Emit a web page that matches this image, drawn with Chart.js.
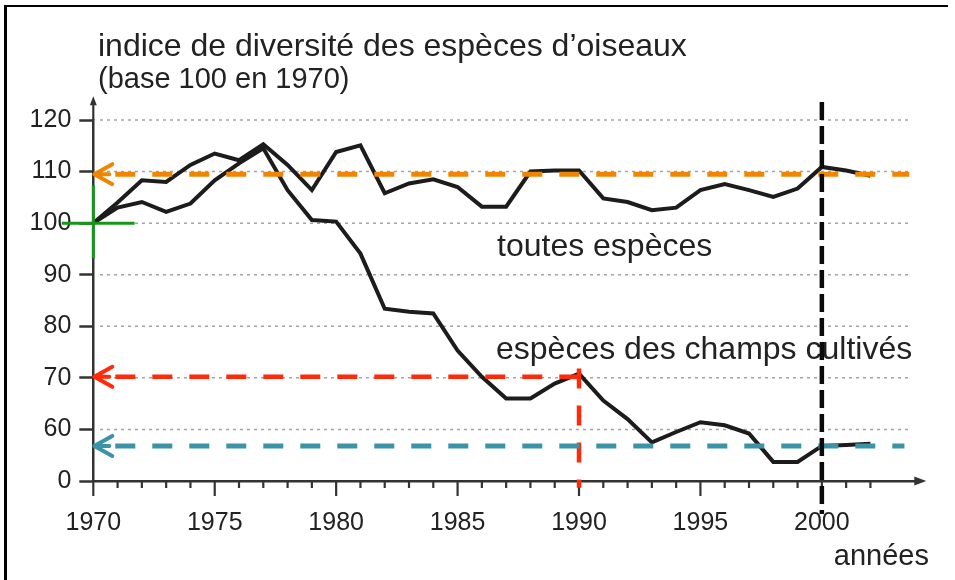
<!DOCTYPE html>
<html>
<head>
<meta charset="utf-8">
<script src="https://cdn.jsdelivr.net/npm/chart.js@4.4.1/dist/chart.umd.min.js"></script>
<style>
  html, body { margin: 0; padding: 0; background: #fff; }
  #wrap { position: relative; width: 955px; height: 580px; }
</style>
</head>
<body>
<div id="wrap"><canvas id="birdChart" width="955" height="580"></canvas></div>
<script>
// years and index values (base 100 in 1970)
const years = [1970, 1971, 1972, 1973, 1974, 1975, 1976, 1977, 1978, 1979,
               1980, 1981, 1982, 1983, 1984, 1985, 1986, 1987, 1988, 1989,
               1990, 1991, 1992, 1993, 1994, 1995, 1996, 1997, 1998, 1999,
               2000, 2001, 2002];
const toutesEspeces = [100, 104, 108.3, 108, 111.3, 113.5, 112.2, 115.3, 111.3, 106.4,
                       113.8, 115.1, 105.8, 107.7, 108.5, 107, 103.2, 103.2, 110, 110.2,
                       110.2, 104.8, 104.1, 102.5, 103, 106.4, 107.6, 106.4, 105.1, 106.7,
                       110.9, 110.2, 109.2];
const champsCultives = [100, 103, 104.1, 102.2, 103.8, 108.3, 111.6, 114.5, 106.4, 100.6,
                        100.3, 94.1, 83.4, 82.8, 82.5, 75.3, 70.2, 66, 66, 68.9,
                        70.8, 65.6, 62, 57.5, 59.5, 61.4, 60.8, 59.2, 53.7, 53.7,
                        56.8, 57, 57.2];

// axis ticks (the axis is broken: "0" sits one step below 60)
const xTickLabels = [1970, 1975, 1980, 1985, 1990, 1995, 2000];
const yTickValues = [50, 60, 70, 80, 90, 100, 110, 120];
const yTickLabels = ['0', '60', '70', '80', '90', '100', '110', '120'];
const gridValues = [60, 70, 80, 90, 100, 110, 120];

// reading guides
const orangeLevel = 109.5;
const redLevel = 70.2;
const redYear = 1990;
const tealLevel = 56.8;
const markYear = 2000;

const FONT = '"Liberation Sans", Arial, Helvetica, sans-serif';
const TEXT = '#222';
const AXIS = '#333';

function dashedLine(ctx, x1, y1, x2, y2, color, width, dash) {
    ctx.save();
    ctx.strokeStyle = color;
    ctx.lineWidth = width;
    ctx.setLineDash(dash);
    ctx.beginPath();
    ctx.moveTo(x1, y1);
    ctx.lineTo(x2, y2);
    ctx.stroke();
    ctx.restore();
}

function leftArrow(ctx, x, y, color) {
    ctx.save();
    ctx.strokeStyle = color;
    ctx.lineWidth = 4;
    ctx.lineCap = 'round';
    ctx.lineJoin = 'round';
    ctx.beginPath();
    ctx.moveTo(x + 19, y - 10);
    ctx.lineTo(x + 1, y);
    ctx.lineTo(x + 19, y + 10);
    ctx.moveTo(x + 1, y);
    ctx.lineTo(x + 16, y);
    ctx.stroke();
    ctx.restore();
}

const decorPlugin = {
    id: 'decor',
    beforeDatasetsDraw(chart) {
        const {ctx} = chart;
        const ys = chart.scales.y;

        // frame
        ctx.save();
        ctx.fillStyle = '#000';
        ctx.fillRect(4, 5, 3, 575);
        ctx.fillRect(4, 5, 944, 2);
        ctx.restore();

        // dotted grid
        gridValues.forEach(v => {
            const y = ys.getPixelForValue(v);
            dashedLine(ctx, 100, y, 910, y, '#a4a4a4', 1.5, [3, 4]);
        });

        // texts
        ctx.save();
        ctx.fillStyle = TEXT;
        ctx.textBaseline = 'middle';
        ctx.textAlign = 'left';
        ctx.font = '32px ' + FONT;
        ctx.fillText('indice de diversité des espèces d\u2019oiseaux', 98, 47);
        ctx.font = '29px ' + FONT;
        ctx.fillText('(base 100 en 1970)', 98, 80);
        ctx.font = '32px ' + FONT;
        ctx.fillText('toutes espèces', 497, 247);
        ctx.fillText('espèces des champs cultivés', 496, 350);
        ctx.textAlign = 'right';
        ctx.font = '29px ' + FONT;
        ctx.fillText('années', 929, 557);
        ctx.restore();
    },
    afterDatasetsDraw(chart) {
        const {ctx} = chart;
        const xs = chart.scales.x, ys = chart.scales.y;
        const area = chart.chartArea;
        const x0 = xs.getPixelForValue(1970);

        // minor / major year ticks below the axis
        ctx.save();
        ctx.strokeStyle = AXIS;
        ctx.lineWidth = 2.2;
        years.forEach(yr => {
            const x = xs.getPixelForValue(yr);
            const len = xTickLabels.includes(yr) ? 15 : 7;
            ctx.beginPath();
            ctx.moveTo(x, area.bottom);
            ctx.lineTo(x, area.bottom + len);
            ctx.stroke();
        });
        // x axis arrow
        const xEnd = xs.getPixelForValue(2004.3);
        ctx.fillStyle = AXIS;
        ctx.beginPath();
        ctx.moveTo(xEnd, area.bottom);
        ctx.lineTo(xEnd - 12, area.bottom - 4.5);
        ctx.lineTo(xEnd - 12, area.bottom + 4.5);
        ctx.closePath();
        ctx.fill();
        ctx.beginPath();
        ctx.moveTo(area.right, area.bottom);
        ctx.lineTo(xEnd - 8, area.bottom);
        ctx.stroke();
        // y axis extension + arrow
        const yTop = ys.getPixelForValue(124.6);
        ctx.beginPath();
        ctx.moveTo(x0, area.top);
        ctx.lineTo(x0, yTop + 6);
        ctx.stroke();
        ctx.beginPath();
        ctx.moveTo(x0, yTop);
        ctx.lineTo(x0 - 3.5, yTop + 9);
        ctx.lineTo(x0 + 3.5, yTop + 9);
        ctx.closePath();
        ctx.fill();
        ctx.restore();

        // orange guide
        const yo = ys.getPixelForValue(orangeLevel);
        dashedLine(ctx, x0 + 22, yo, xs.getPixelForValue(2003.6), yo, '#ef8500', 5, [20, 17]);
        leftArrow(ctx, x0, yo, '#ef8500');

        // red guide
        const yr = ys.getPixelForValue(redLevel);
        const xr = xs.getPixelForValue(redYear);
        dashedLine(ctx, x0 + 22, yr, xr, yr, '#ff2a0a', 4.5, [20, 17]);
        dashedLine(ctx, xr, ys.getPixelForValue(71.8), xr, ys.getPixelForValue(48.7), '#ff2a0a', 4.5, [20, 17]);
        leftArrow(ctx, x0, yr, '#ff2a0a');

        // teal guide
        const yt = ys.getPixelForValue(tealLevel);
        dashedLine(ctx, x0 + 22, yt, xs.getPixelForValue(2003.4), yt, '#3a93a8', 5, [20, 17]);
        leftArrow(ctx, x0, yt, '#3a93a8');

        // black dashed line at 2000
        const xm = xs.getPixelForValue(markYear);
        dashedLine(ctx, xm, ys.getPixelForValue(123.5), xm, ys.getPixelForValue(43.6), '#0a0a0a', 4.5, [18, 6]);

        // green cross at the origin (1970, 100)
        const yg = ys.getPixelForValue(100);
        ctx.save();
        ctx.strokeStyle = '#16961a';
        ctx.lineWidth = 3;
        ctx.beginPath();
        ctx.moveTo(xs.getPixelForValue(1968.7), yg);
        ctx.lineTo(xs.getPixelForValue(1971.7), yg);
        ctx.moveTo(x0, ys.getPixelForValue(107.3));
        ctx.lineTo(x0, ys.getPixelForValue(93.2));
        ctx.stroke();
        ctx.restore();
    }
};

function toPoints(values) {
    return years.map((yr, i) => ({x: yr, y: values[i]}));
}

const ctx = document.getElementById('birdChart').getContext('2d');
new Chart(ctx, {
    type: 'line',
    data: {
        datasets: [{
            label: 'toutes espèces',
            data: toPoints(toutesEspeces),
            borderColor: '#1c1c1c',
            borderWidth: 4,
            pointRadius: 0,
            tension: 0
        }, {
            label: 'espèces des champs cultivés',
            data: toPoints(champsCultives),
            borderColor: '#1c1c1c',
            borderWidth: 4,
            pointRadius: 0,
            tension: 0
        }]
    },
    options: {
        responsive: false,
        animation: false,
        layout: { padding: { left: 0, top: 120, right: 36, bottom: 0 } },
        plugins: {
            legend: { display: false },
            tooltip: { enabled: false }
        },
        scales: {
            x: {
                type: 'linear',
                min: 1970,
                max: 2004,
                afterFit: s => { s.height = 99; },
                afterBuildTicks: s => { s.ticks = xTickLabels.map(v => ({value: v})); },
                grid: { display: true, drawOnChartArea: false, drawTicks: false },
                border: { display: true, color: AXIS, width: 2.5 },
                ticks: {
                    padding: 27,
                    maxRotation: 0,
                    autoSkip: false,
                    color: TEXT,
                    font: { family: FONT, size: 25 },
                    callback: v => String(v)
                }
            },
            y: {
                min: 50,
                max: 120,
                afterFit: s => { s.width = 93.3; },
                afterBuildTicks: s => { s.ticks = yTickValues.map(v => ({value: v})); },
                grid: { display: true, drawOnChartArea: false, drawTicks: true, tickLength: 14, tickColor: AXIS, tickWidth: 2.5 },
                border: { display: true, color: AXIS, width: 2.5 },
                ticks: {
                    padding: 8,
                    color: TEXT,
                    font: { family: FONT, size: 25 },
                    callback: (v, i) => yTickLabels[i]
                }
            }
        }
    },
    plugins: [decorPlugin]
});
</script>
</body>
</html>
